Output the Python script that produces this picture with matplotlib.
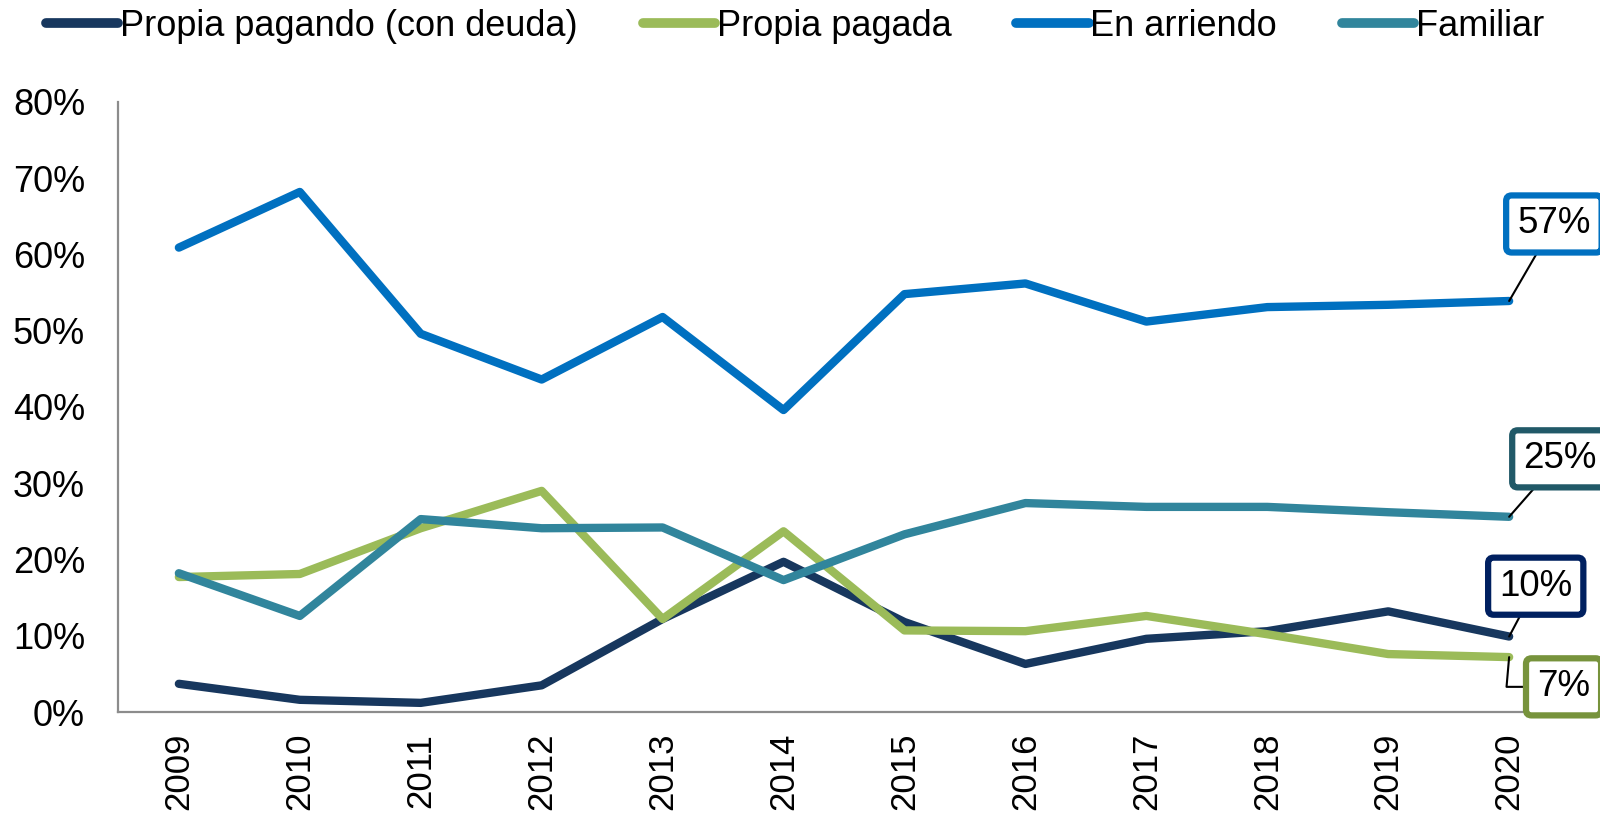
import matplotlib.pyplot as plt
from matplotlib.ticker import PercentFormatter

plt.rcParams['font.family'] = ['Liberation Sans', 'DejaVu Sans']

anios = ['2009', '2010', '2011', '2012', '2013', '2014',
         '2015', '2016', '2017', '2018', '2019', '2020']

propia_pagando = [3.7, 1.6, 1.2, 3.5, 12.2, 19.7, 11.8, 6.3, 9.6, 10.6, 13.2, 9.9]
propia_pagada = [17.7, 18.1, 24.1, 29.0, 12.2, 23.7, 10.7, 10.6, 12.6, 10.2, 7.6, 7.2]
en_arriendo = [60.9, 68.2, 49.6, 43.6, 51.8, 39.6, 54.8, 56.2, 51.2, 53.1, 53.4, 53.9]
familiar = [18.2, 12.6, 25.3, 24.1, 24.2, 17.3, 23.3, 27.4, 26.9, 26.9, 26.2, 25.6]

series = [
    ('Propia pagando (con deuda)', propia_pagando, '#17375E', '#002060', '10%'),
    ('Propia pagada', propia_pagada, '#9BBB59', '#77933C', '7%'),
    ('En arriendo', en_arriendo, '#0070C0', '#0070C0', '57%'),
    ('Familiar', familiar, '#31859C', '#215968', '25%'),
]

# posicion de las etiquetas finales (indice x, valor y) y estilo del conector
etiquetas_pos = {
    '10%': (11.22, 16.5, 'arc3'),
    '7%': (11.45, 3.3, 'angle,angleA=0,angleB=85,rad=0'),
    '57%': (11.37, 64.0, 'arc3'),
    '25%': (11.42, 33.2, 'arc3'),
}

fig = plt.figure(figsize=(16, 8.17), dpi=100)
ax = fig.add_axes([0.074, 0.1285, 0.907, 0.7467])

x = list(range(len(anios)))
for nombre, valores, color, borde, texto in series:
    ax.plot(x, valores, color=color, lw=6, label=nombre,
            solid_capstyle='round', solid_joinstyle='round')
    tx, ty, estilo = etiquetas_pos[texto]
    ax.annotate(texto, xy=(x[-1], valores[-1]), xytext=(tx, ty),
                fontsize=26.5, ha='center', va='center', annotation_clip=False,
                bbox=dict(boxstyle='round,pad=0.3,rounding_size=0.15',
                          fc='white', ec=borde, lw=4.5),
                arrowprops=dict(arrowstyle='-', color='black', lw=1.5,
                                connectionstyle=estilo, shrinkA=0, shrinkB=0),
                zorder=5)

ax.set_xlim(-0.5, 11.5)
ax.set_ylim(0, 80)
ax.set_yticks(range(0, 81, 10))
ax.yaxis.set_major_formatter(PercentFormatter(decimals=0))
ax.set_xticks(x)
ax.set_xticklabels(anios, rotation=90)
ax.tick_params(axis='y', length=0, pad=24, labelsize=26)
ax.tick_params(axis='x', length=0, pad=15, labelsize=25)

for lado in ['top', 'right']:
    ax.spines[lado].set_visible(False)
for lado in ['left', 'bottom']:
    ax.spines[lado].set_color('#8C8C8C')
    ax.spines[lado].set_linewidth(1.6)

leg = fig.legend(loc='center', bbox_to_anchor=(0.497, 1 - 26 / 817), ncol=4,
                 frameon=False, fontsize=26, handlelength=2.0,
                 handletextpad=0.05, columnspacing=1.8)
for linea in leg.get_lines():
    linea.set_linewidth(7)

fig.savefig('out.png', dpi=100)
